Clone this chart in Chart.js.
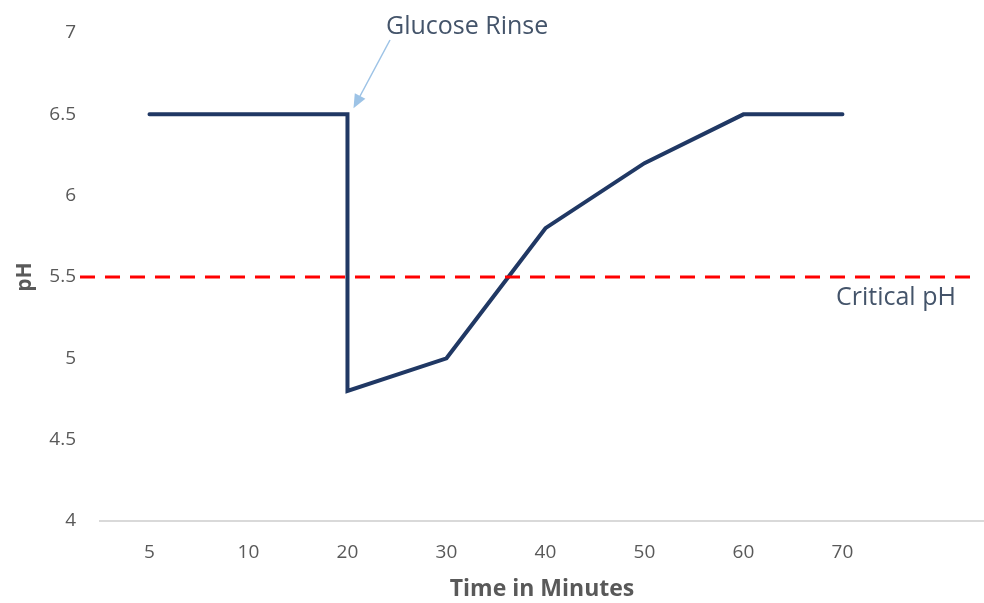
<!DOCTYPE html>
<html>
<head>
<meta charset="utf-8">
<script src="https://cdn.jsdelivr.net/npm/chart.js@4"></script>
<style>
  html, body { margin: 0; padding: 0; background: #ffffff; }
  #wrap { width: 984px; height: 603px; }
</style>
</head>
<body>
<div id="wrap"><canvas id="c" width="984" height="603"></canvas></div>
<script>
// Time axis categories (minutes); the trailing blank slot leaves room on the right
const categories = ['5', '10', '20', '30', '40', '50', '60', '70', ''];
// pH readings; the rinse at 20 min gives two readings at the same time (instant drop)
const timeIndex = [0, 1, 2, 2, 3, 4, 5, 6, 7];
const phValues = [6.5, 6.5, 6.5, 4.8, 5.0, 5.8, 6.2, 6.5, 6.5];
const yTicks = [4, 4.5, 5, 5.5, 6, 6.5, 7];
const criticalPH = 5.5;
const rinseIndex = 2;

const FONT = "'Open Sans', 'DejaVu Sans', sans-serif";

const overlay = {
  id: 'overlay',
  afterDatasetsDraw(chart) {
    const ctx = chart.ctx;
    const xs = chart.scales.x, ys = chart.scales.y;
    const area = chart.chartArea;

    // critical pH reference line
    const yc = ys.getPixelForValue(criticalPH);
    ctx.save();
    ctx.strokeStyle = '#ff0000';
    ctx.lineWidth = 3;
    ctx.setLineDash([15, 10]);
    ctx.beginPath();
    ctx.moveTo(area.left - 20, yc);
    ctx.lineTo(area.right - 14, yc);
    ctx.stroke();
    ctx.restore();

    // label under the reference line
    ctx.save();
    ctx.fillStyle = '#44546a';
    ctx.font = "25px " + FONT;
    ctx.textAlign = 'left';
    ctx.textBaseline = 'middle';
    ctx.fillText('Critical pH', 836, yc + 21);
    ctx.restore();

    // rinse callout arrow pointing at the reading just before the drop
    const tipX = xs.getPixelForValue(rinseIndex) + 6;
    const tipY = ys.getPixelForValue(phValues[2]) - 6;
    const sx = 390, sy = 40;
    const ang = Math.atan2(tipY - sy, tipX - sx);
    ctx.save();
    ctx.strokeStyle = '#9dc3e6';
    ctx.fillStyle = '#9dc3e6';
    ctx.lineWidth = 1.5;
    ctx.beginPath();
    ctx.moveTo(sx, sy);
    ctx.lineTo(tipX - 10 * Math.cos(ang), tipY - 10 * Math.sin(ang));
    ctx.stroke();
    const hl = 14, hw = 6;
    ctx.beginPath();
    ctx.moveTo(tipX, tipY);
    ctx.lineTo(tipX - hl * Math.cos(ang) + hw * Math.sin(ang), tipY - hl * Math.sin(ang) - hw * Math.cos(ang));
    ctx.lineTo(tipX - hl * Math.cos(ang) - hw * Math.sin(ang), tipY - hl * Math.sin(ang) + hw * Math.cos(ang));
    ctx.closePath();
    ctx.fill();
    ctx.restore();

    ctx.save();
    ctx.fillStyle = '#44546a';
    ctx.font = "25px " + FONT;
    ctx.textAlign = 'left';
    ctx.textBaseline = 'middle';
    ctx.fillText('Glucose Rinse', 386, 27);
    ctx.restore();
  }
};

new Chart(document.getElementById('c'), {
  type: 'line',
  data: {
    datasets: [{
      data: timeIndex.map((x, i) => ({ x: x, y: phValues[i] })),
      borderColor: '#203864',
      borderWidth: 4,
      pointRadius: 0,
      tension: 0,
      fill: false,
      borderJoinStyle: 'miter',
      borderCapStyle: 'round'
    }]
  },
  options: {
    responsive: false,
    animation: false,
    layout: { padding: { top: 33, right: 0, bottom: 0, left: 0 } },
    plugins: { legend: { display: false }, tooltip: { enabled: false } },
    scales: {
      x: {
        type: 'linear',
        min: -0.5,
        max: 8.43,
        afterBuildTicks(scale) {
          scale.ticks = categories.slice(0, 8).map((c, i) => ({ value: i }));
        },
        afterFit(scale) { scale.height = 82; },
        grid: { display: false },
        border: { display: true, color: '#d9d9d9', width: 2 },
        ticks: {
          autoSkip: false,
          maxRotation: 0,
          padding: 12,
          color: '#595959',
          font: { family: FONT, size: 19 },
          callback: (v) => categories[v]
        },
        title: {
          display: true,
          text: 'Time in Minutes',
          color: '#595959',
          font: { family: FONT, size: 23, weight: 'bold' },
          padding: { top: 0, bottom: 0 }
        }
      },
      y: {
        min: 4,
        max: 7,
        afterBuildTicks(scale) {
          scale.ticks = yTicks.map(v => ({ value: v }));
        },
        afterFit(scale) { scale.width = 100; },
        grid: { display: false },
        border: { display: false },
        ticks: {
          padding: 16,
          color: '#595959',
          font: { family: FONT, size: 19 },
          callback: (v) => String(v)
        },
        title: {
          display: true,
          text: 'pH',
          color: '#595959',
          font: { family: FONT, size: 21, weight: 'bold' },
          padding: { top: 12, bottom: 0 }
        }
      }
    }
  },
  plugins: [overlay]
});
</script>
</body>
</html>
